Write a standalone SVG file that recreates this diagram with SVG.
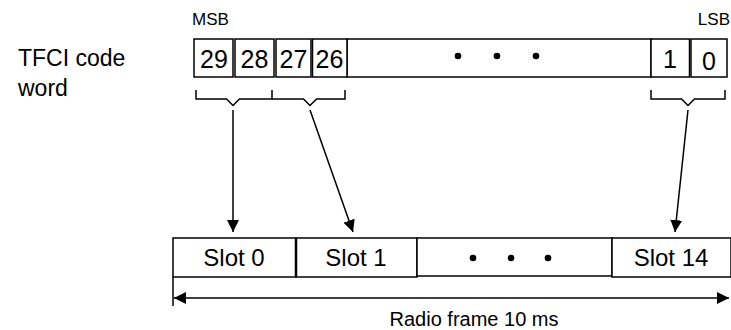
<svg xmlns="http://www.w3.org/2000/svg" width="731" height="330" viewBox="0 0 731 330">
<defs>
<style>
text{font-family:"Liberation Sans",Arial,sans-serif;fill:#000}
.box{fill:#fff;stroke:#000;stroke-width:1.5}
.line{fill:none;stroke:#000;stroke-width:1.5}
.num{font-size:25px;text-anchor:middle}
.slot{font-size:24px;text-anchor:middle}
.lbl{font-size:23px}
.small{font-size:17px}
</style>
<marker id="ah" viewBox="0 0 12 12" refX="12" refY="6" markerWidth="12" markerHeight="12" markerUnits="userSpaceOnUse" orient="auto-start-reverse">
<path d="M0,0 L12,6 L0,12 Z" fill="#000"/>
</marker>
</defs>
<rect width="731" height="330" fill="#fff"/>
<g id="labels">
<text class="lbl" x="18" y="66">TFCI code</text>
<text class="lbl" x="18" y="96">word</text>
<text class="small" x="192" y="25">MSB</text>
<text class="small" x="730" y="25" text-anchor="end">LSB</text>
<text class="small" x="474" y="326" text-anchor="middle" style="font-size:20px">Radio frame 10 ms</text>
</g>
<g id="codeword">
<rect class="box" x="347" y="39" width="304" height="38"/>
<rect class="box" x="194" y="39" width="39" height="38"/>
<rect class="box" x="235" y="39" width="39" height="38"/>
<rect class="box" x="276" y="39" width="35" height="38"/>
<rect class="box" x="312.5" y="39" width="34.5" height="38"/>
<rect class="box" x="651" y="39" width="38.5" height="38"/>
<rect class="box" x="691" y="39" width="36" height="38"/>
<text class="num" x="214" y="68">29</text>
<text class="num" x="254.5" y="68">28</text>
<text class="num" x="293.5" y="68">27</text>
<text class="num" x="329.5" y="68">26</text>
<text class="num" x="670" y="68">1</text>
<text class="num" x="709" y="70">0</text>
<circle cx="458" cy="56" r="3.3"/>
<circle cx="497" cy="56" r="3.3"/>
<circle cx="536" cy="56" r="3.3"/>
</g>
<g id="brackets">
<path class="line" d="M196,90 V99 H226.5 L233,105.5 L239.5,99 H272 V90"/>
<path class="line" d="M272,99 H303.5 L310,105.5 L316.5,99 H345 V90"/>
<path class="line" d="M651,90 V99 H681.5 L688,105.5 L694.5,99 H725 V90"/>
</g>
<g id="slots">
<rect class="box" x="173" y="238" width="123" height="39"/>
<rect class="box" x="296" y="238" width="121" height="39"/>
<rect class="box" x="417" y="238" width="195" height="38"/>
<rect class="box" x="612" y="238" width="119" height="39"/>
<line class="line" x1="296" y1="238" x2="296" y2="277" style="stroke-width:2.5"/>
<text class="slot" x="234" y="266">Slot 0</text>
<text class="slot" x="356" y="266">Slot 1</text>
<text class="slot" x="671" y="266">Slot 14</text>
<circle cx="473" cy="258" r="3.3"/>
<circle cx="511" cy="258" r="3.3"/>
<circle cx="548" cy="258" r="3.3"/>
</g>
<g id="connectors">
<line class="line" x1="233" y1="110" x2="233" y2="232" marker-end="url(#ah)"/>
<line class="line" x1="310" y1="110" x2="353" y2="232" marker-end="url(#ah)"/>
<line class="line" x1="688" y1="110" x2="675" y2="232" marker-end="url(#ah)"/>
<line class="line" x1="173" y1="277" x2="173" y2="306"/>
<line class="line" x1="174" y1="298" x2="729" y2="298" marker-start="url(#ah)" marker-end="url(#ah)"/>
</g>
</svg>
